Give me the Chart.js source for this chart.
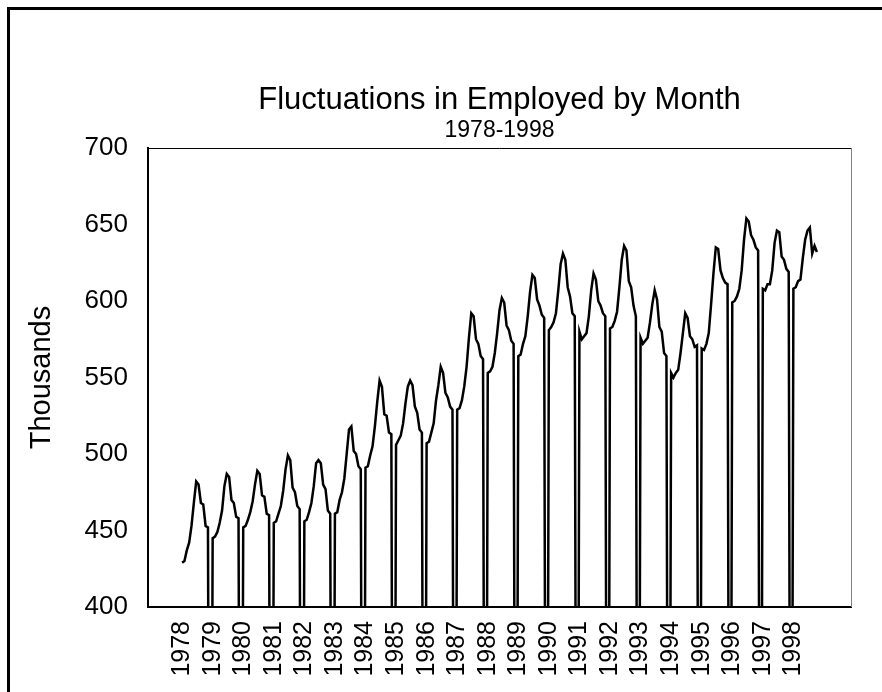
<!DOCTYPE html>
<html>
<head>
<meta charset="utf-8">
<title>Fluctuations in Employed by Month</title>
<script src="https://cdn.jsdelivr.net/npm/chart.js@4.4.0/dist/chart.umd.min.js"></script>
<style>
  html, body { margin: 0; padding: 0; background: #fff; }
  #wrap { position: relative; width: 882px; height: 692px; }
</style>
</head>
<body>
<div id="wrap"><canvas id="employed-chart" width="882" height="692"></canvas></div>
<script>
// Employed (thousands), January to December of each year
var years = [1978, 1979, 1980, 1981, 1982, 1983, 1984, 1985, 1986, 1987, 1988,
             1989, 1990, 1991, 1992, 1993, 1994, 1995, 1996, 1997, 1998];

var e1978 = [429, 430, 437, 442, 453, 468, 482, 480, 468, 467, 453, 452];
var e1979 = [445, 446, 449, 455, 463, 479, 487, 485, 470, 468, 459, 458];
var e1980 = [452, 453, 457, 462, 469, 480, 489, 487, 473, 472, 461, 460];
var e1981 = [455, 456, 461, 466, 476, 490, 499, 496, 478, 475, 466, 464];
var e1982 = [456, 457, 462, 468, 479, 494, 496, 494, 480, 477, 463, 461];
var e1983 = [461, 462, 470, 475, 484, 500, 516, 518, 502, 500, 492, 490];
var e1984 = [491, 492, 499, 505, 518, 534, 548, 544, 526, 525, 514, 513];
var e1985 = [506, 509, 512, 520, 533, 544, 548, 545, 531, 527, 516, 514];
var e1986 = [507, 508, 514, 520, 535, 545, 557, 553, 540, 537, 531, 529];
var e1987 = [529, 530, 535, 544, 557, 576, 592, 590, 575, 572, 564, 562];
var e1988 = [553, 554, 557, 566, 579, 594, 602, 599, 584, 581, 574, 572];
var e1989 = [564, 565, 572, 577, 590, 606, 617, 615, 601, 597, 591, 589];
var e1990 = [581, 583, 586, 592, 607, 624, 631, 627, 609, 603, 592, 590];
var e1991 = [580, 575, 577, 579, 590, 607, 618, 614, 600, 597, 592, 590];
var e1992 = [582, 583, 587, 593, 609, 627, 636, 633, 613, 609, 597, 590];
var e1993 = [576, 572, 574, 576, 586, 598, 607, 601, 583, 580, 566, 564];
var e1994 = [553, 550, 553, 555, 566, 579, 592, 589, 577, 575, 570, 571];
var e1995 = [569, 568, 572, 579, 598, 618, 635, 634, 620, 615, 612, 611];
var e1996 = [599, 600, 603, 608, 620, 640, 654, 652, 643, 640, 635, 633];
var e1997 = [608, 607, 611, 611, 620, 638, 646, 645, 629, 627, 621, 619];
var e1998 = [608, 609, 613, 614, 628, 640, 646, 648, 631, 636, 632];

// the sheet has an empty row between years, which plots as zero
var gapValue = 0;

var yTicks = [400, 450, 500, 550, 600, 650, 700];

var employedByYear = [e1978, e1979, e1980, e1981, e1982, e1983, e1984, e1985, e1986, e1987, e1988,
                      e1989, e1990, e1991, e1992, e1993, e1994, e1995, e1996, e1997, e1998];

// one continuous series: the months of a year, then the empty row
var points = [];
var yearStarts = [];
var idx = 0;
employedByYear.forEach(function (months, k) {
    yearStarts.push(idx);
    months.forEach(function (v) {
        points.push({ x: idx, y: v });
        idx++;
    });
    if (k < employedByYear.length - 1) {
        points.push({ x: idx, y: gapValue });
        idx++;
    }
});

var FONT = "'Liberation Sans', Arial, sans-serif";

// white page with the outer frame (left and top edges)
var pageFrame = {
    id: 'pageFrame',
    beforeDraw: function (chart) {
        var c = chart.ctx;
        c.save();
        c.fillStyle = '#fff';
        c.fillRect(0, 0, chart.width, chart.height);
        c.strokeStyle = '#000';
        c.lineWidth = 3;
        c.beginPath();
        c.moveTo(8.5, chart.height + 5);
        c.lineTo(8.5, 8.5);
        c.lineTo(chart.width + 5, 8.5);
        c.stroke();
        c.restore();
    }
};

// title lines centred over the plot, and the thin top/right edges of the plot box
var plotDecor = {
    id: 'plotDecor',
    afterDraw: function (chart) {
        var c = chart.ctx;
        var a = chart.chartArea;
        var cx = (a.left + a.right) / 2;
        c.save();
        c.fillStyle = '#000';
        c.textAlign = 'center';
        c.textBaseline = 'alphabetic';
        c.font = '31px ' + FONT;
        c.fillText('Fluctuations in Employed by Month', cx, 109);
        c.font = '23px ' + FONT;
        c.fillText('1978-1998', cx, 137);

        c.lineWidth = 1;
        c.strokeStyle = '#000';
        c.beginPath();
        c.moveTo(a.left, a.top + 0.5);
        c.lineTo(a.right, a.top + 0.5);
        c.stroke();
        c.strokeStyle = '#808080';
        c.beginPath();
        c.moveTo(a.right + 0.5, a.top);
        c.lineTo(a.right + 0.5, a.bottom);
        c.stroke();
        c.restore();
    }
};

var ctx = document.getElementById('employed-chart').getContext('2d');
var employedChart = new Chart(ctx, {
    type: 'line',
    data: {
        datasets: [{
            label: 'Employed',
            data: points,
            borderColor: '#000',
            borderWidth: 2.5,
            pointRadius: 0,
            tension: 0,
            fill: false
        }]
    },
    options: {
        responsive: false,
        animation: false,
        events: [],
        layout: { padding: { top: 148, right: 31, left: 0, bottom: 0 } },
        plugins: {
            legend: { display: false },
            tooltip: { enabled: false },
            title: { display: false }
        },
        scales: {
            x: {
                type: 'linear',
                min: -14.5,
                max: 284.5,
                afterBuildTicks: function (axis) {
                    axis.ticks = yearStarts.map(function (v) { return { value: v }; });
                },
                afterFit: function (axis) { axis.height = 85; },
                grid: { display: false, drawTicks: false },
                border: { display: true, color: '#000', width: 2 },
                ticks: {
                    autoSkip: false,
                    minRotation: 90,
                    maxRotation: 90,
                    padding: 14,
                    color: '#000',
                    font: { family: FONT, size: 25 },
                    callback: function (value) {
                        var k = yearStarts.indexOf(value);
                        return k >= 0 ? String(years[k]) : '';
                    }
                }
            },
            y: {
                min: yTicks[0],
                max: yTicks[yTicks.length - 1],
                afterBuildTicks: function (axis) {
                    axis.ticks = yTicks.map(function (v) { return { value: v }; });
                },
                afterFit: function (axis) { axis.width = 148; },
                grid: { display: false, drawTicks: false },
                border: { display: true, color: '#000', width: 2 },
                ticks: {
                    padding: 20,
                    color: '#000',
                    font: { family: FONT, size: 26 }
                },
                title: {
                    display: true,
                    text: 'Thousands',
                    color: '#000',
                    font: { family: FONT, size: 29 },
                    padding: { top: 25, bottom: 0 }
                }
            }
        }
    },
    plugins: [pageFrame, plotDecor]
});
</script>
</body>
</html>
